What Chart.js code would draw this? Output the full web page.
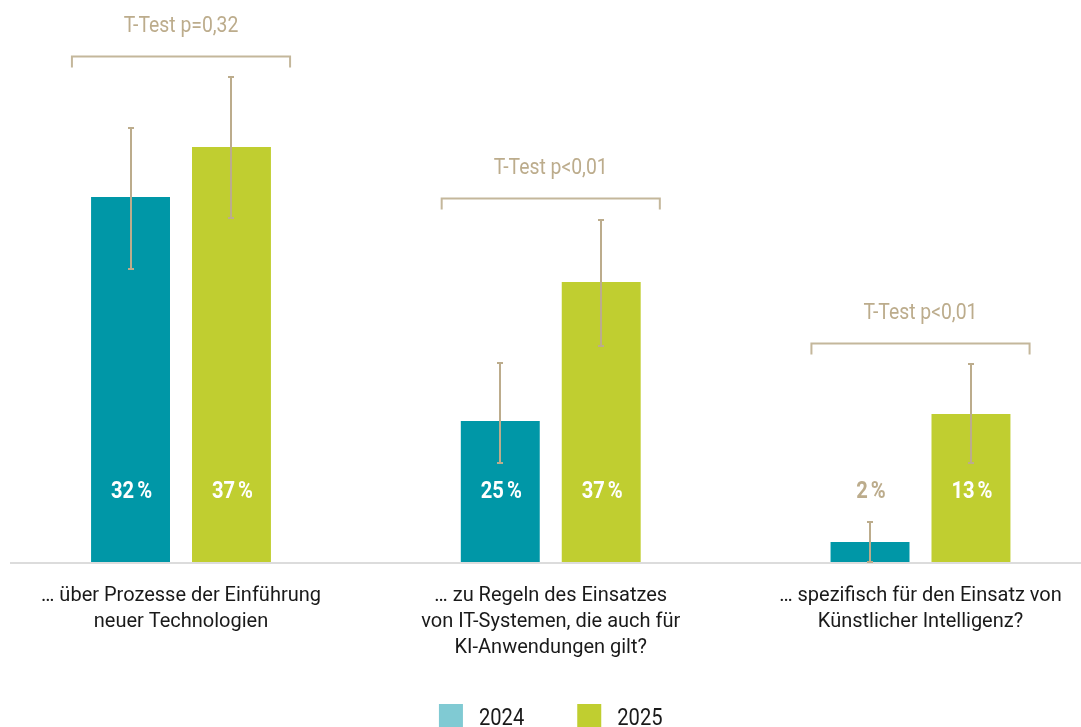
<!DOCTYPE html>
<html>
<head>
<meta charset="utf-8">
<script src="https://cdn.jsdelivr.net/npm/chart.js@4.4.1/dist/chart.umd.min.js"></script>
<style>
  html, body { margin: 0; padding: 0; background: #ffffff; }
  #wrap { width: 1081px; height: 727px; position: relative; }
</style>
</head>
<body>
<div id="wrap"><canvas id="c"></canvas></div>
<script>
// ---------- data ----------
const categories = [
  ["… über Prozesse der Einführung", "neuer Technologien"],
  ["… zu Regeln des Einsatzes", "von IT-Systemen, die auch für", "KI-Anwendungen gilt?"],
  ["… spezifisch für den Einsatz von", "Künstlicher Intelligenz?"]
];
const seriesNames = ["2024", "2025"];
// bar heights (chart units, as drawn)
const bars2024 = [36.5, 14.1, 2.0];
const bars2025 = [41.5, 28.0, 14.8];
// printed percentage labels
const pct2024 = [32, 25, 2];
const pct2025 = [37, 37, 13];
// error bar limits (chart units)
const errLow2024  = [29.3, 9.9, 0.0];
const errHigh2024 = [43.4, 19.9, 4.0];
const errLow2025  = [34.4, 21.6, 9.9];
const errHigh2025 = [48.5, 34.2, 19.8];
// significance tests
const tTests = ["T-Test p=0,32", "T-Test p<0,01", "T-Test p<0,01"];

// ---------- styles ----------
const TEAL = "#0097a7";
const TEAL_LEGEND = "#80cad3";
const GREEN = "#c0ce30";
const TAN = "#bcac8c";
const TEXT = "#1a1a1a";

function condText(ctx, text, x, y, sx) {
  ctx.save();
  ctx.translate(x, y);
  ctx.scale(sx, 1);
  ctx.fillText(text, 0, 0);
  ctx.restore();
}

const decor = {
  id: "decor",
  beforeDatasetsDraw(chart) {
    const ctx = chart.ctx;
    const y0 = chart.scales.y.getPixelForValue(0);
    ctx.save();
    ctx.strokeStyle = "#dcdcdc";
    ctx.lineWidth = 2;
    ctx.beginPath();
    ctx.moveTo(10, y0 + 1);
    ctx.lineTo(chart.width, y0 + 1);
    ctx.stroke();
    ctx.restore();
  },
  afterDatasetsDraw(chart) {
    const ctx = chart.ctx;
    const xs = chart.scales.x, ys = chart.scales.y;
    const y0 = ys.getPixelForValue(0);
    const errs = [[errLow2024, errHigh2024], [errLow2025, errHigh2025]];
    const pcts = [pct2024, pct2025];
    ctx.save();
    // error bars
    ctx.strokeStyle = TAN;
    ctx.lineWidth = 2;
    for (let d = 0; d < 2; d++) {
      const meta = chart.getDatasetMeta(d);
      meta.data.forEach((bar, i) => {
        const x = Math.round(bar.x);
        const yl = ys.getPixelForValue(errs[d][0][i]);
        const yh = ys.getPixelForValue(errs[d][1][i]);
        ctx.beginPath();
        ctx.moveTo(x, yl); ctx.lineTo(x, yh);
        ctx.moveTo(x - 3, yl); ctx.lineTo(x + 3, yl);
        ctx.moveTo(x - 3, yh); ctx.lineTo(x + 3, yh);
        ctx.stroke();
      });
    }
    // value labels: number, small gap, percent sign
    ctx.font = "bold 24px Roboto";
    ctx.textAlign = "left";
    ctx.textBaseline = "alphabetic";
    const sx = 0.84, gap = 3;
    const labelY = y0 - 64;
    for (let d = 0; d < 2; d++) {
      const meta = chart.getDatasetMeta(d);
      meta.data.forEach((bar, i) => {
        const num = String(pcts[d][i]);
        const wn = ctx.measureText(num).width * sx;
        const wp = ctx.measureText("%").width * sx;
        const x0 = bar.x + 1 - (wn + gap + wp) / 2;
        ctx.fillStyle = bar.y < labelY - 24 ? "#ffffff" : TAN;
        condText(ctx, num, x0, labelY, sx);
        condText(ctx, "%", x0 + wn + gap, labelY, sx);
      });
    }
    // brackets + T-tests
    ctx.textAlign = "center";
    const catW = xs.getPixelForValue(1) - xs.getPixelForValue(0);
    for (let i = 0; i < categories.length; i++) {
      const cx = xs.getPixelForValue(i);
      const top = Math.min(ys.getPixelForValue(errHigh2024[i]), ys.getPixelForValue(errHigh2025[i]));
      const by = Math.round(top - 21.5) + 0.5;
      const hw = catW * 0.295;
      ctx.strokeStyle = "#c4b79b";
      ctx.lineWidth = 2;
      ctx.beginPath();
      ctx.moveTo(cx - hw, by + 11);
      ctx.lineTo(cx - hw, by);
      ctx.lineTo(cx + hw, by);
      ctx.lineTo(cx + hw, by + 11);
      ctx.stroke();
      ctx.fillStyle = TAN;
      ctx.font = "22px Roboto";
      condText(ctx, tTests[i], cx, by - 25, 0.88);
    }
    ctx.restore();
  },
  afterDraw(chart) {
    const ctx = chart.ctx;
    const xs = chart.scales.x, ys = chart.scales.y;
    const y0 = ys.getPixelForValue(0);
    ctx.save();
    // category labels
    ctx.fillStyle = TEXT;
    ctx.font = "20px Roboto";
    ctx.textAlign = "center";
    ctx.textBaseline = "alphabetic";
    categories.forEach((lines, i) => {
      const cx = xs.getPixelForValue(i);
      lines.forEach((ln, k) => ctx.fillText(ln, cx, y0 + 39 + k * 26));
    });
    // legend
    const colors = [TEAL_LEGEND, GREEN];
    ctx.font = "24px Roboto";
    const sx = 0.84;
    const box = 24, gapBT = 16, gapItems = 53;
    const widths = seriesNames.map(s => ctx.measureText(s).width * sx);
    const total = widths.reduce((a, w) => a + box + gapBT + w, 0) + gapItems;
    let x = (xs.getPixelForValue(0) + xs.getPixelForValue(categories.length - 1)) / 2 - total / 2;
    const ly = 704;
    ctx.textAlign = "left";
    seriesNames.forEach((s, i) => {
      ctx.fillStyle = colors[i];
      ctx.fillRect(x, ly, box, box);
      ctx.fillStyle = TEXT;
      condText(ctx, s, x + box + gapBT, ly + 21, sx);
      x += box + gapBT + widths[i] + gapItems;
    });
    ctx.restore();
  }
};

new Chart(document.getElementById("c"), {
  type: "bar",
  data: {
    labels: categories.map(c => c.join(" ")),
    datasets: [
      { label: seriesNames[0], data: bars2024, backgroundColor: TEAL, clip: false },
      { label: seriesNames[1], data: bars2025, backgroundColor: GREEN, clip: false }
    ]
  },
  options: {
    responsive: true,
    maintainAspectRatio: false,
    animation: false,
    events: [],
    layout: { padding: { left: 181, right: 160.5, top: 0, bottom: 165 } },
    datasets: { bar: { categoryPercentage: 0.546, barPercentage: 0.782 } },
    plugins: { legend: { display: false }, tooltip: { enabled: false } },
    scales: {
      x: { display: false, offset: false },
      y: { display: false, min: 0, max: 56.2 }
    }
  },
  plugins: [decor]
});
</script>
</body>
</html>
